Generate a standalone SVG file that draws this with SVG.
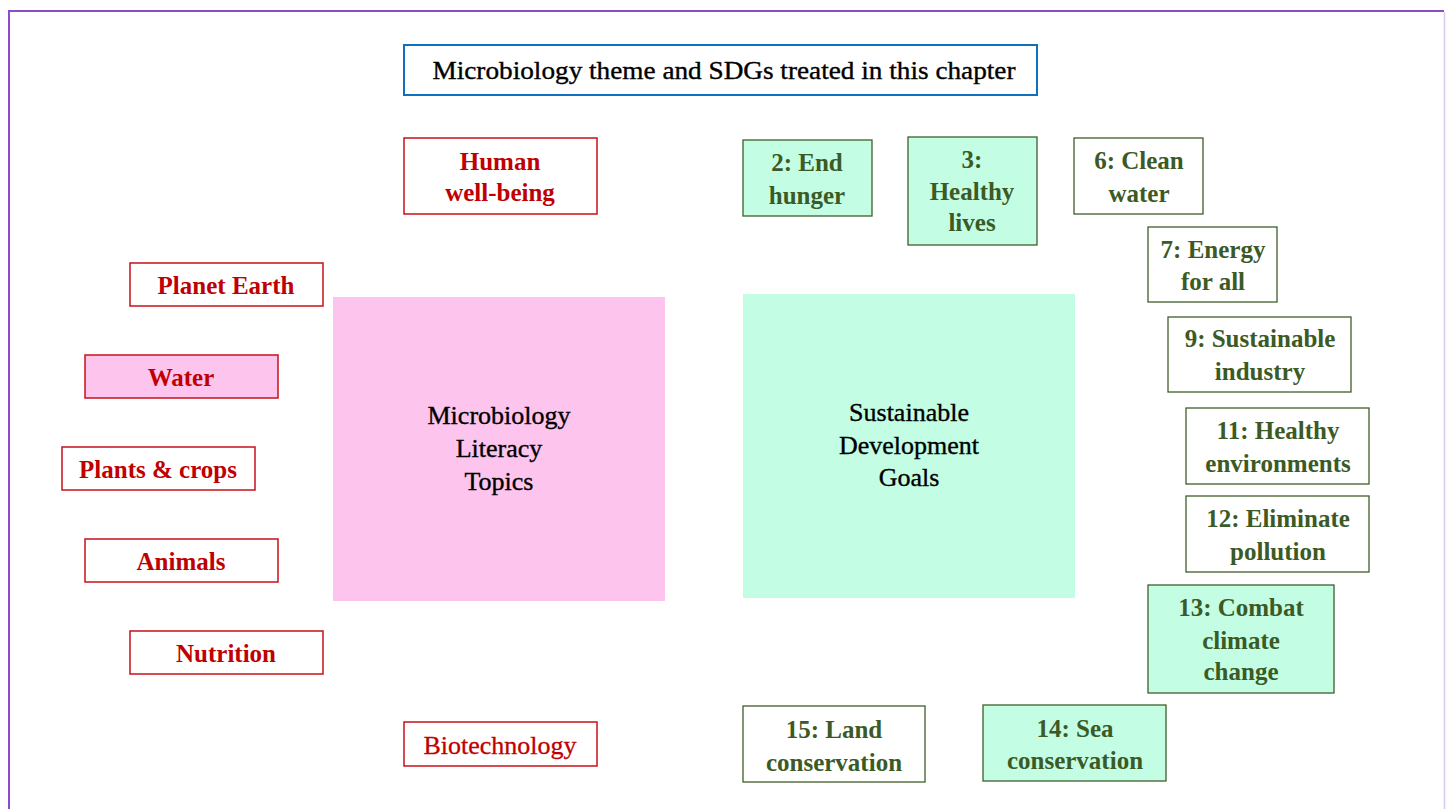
<svg xmlns="http://www.w3.org/2000/svg" width="1450" height="809" viewBox="0 0 1450 809">
<style>
  text { font-family: "Liberation Serif", "Times New Roman", serif; text-anchor: middle; }
  .title { font-size: 25px; fill: #000; stroke: #000; stroke-width: 0.35; }
  .center { font-size: 26px; fill: #000; stroke: #000; stroke-width: 0.35; }
  .topic rect { fill: #fff; stroke: #c8101a; stroke-width: 1.5; }
  .topic text { font-size: 25px; font-weight: bold; fill: #c00000; }
  .topic.filled rect { fill: #fdc4ee; }
  .topic text.light { font-weight: normal; font-size: 26px; stroke: #c00000; stroke-width: 0.3; }
  .sdg rect { fill: #fff; stroke: #3f5f2a; stroke-width: 1.3; }
  .sdg text { font-size: 25px; font-weight: bold; fill: #3b5a25; }
  .sdg.filled rect { fill: #c2fde4; }
</style>
<rect x="0" y="0" width="1450" height="809" fill="#fff"/>
<g id="frame">
  <line x1="9" y1="11" x2="1444" y2="11" stroke="#8a4cc8" stroke-width="2"/>
  <line x1="9" y1="10" x2="9" y2="809" stroke="#8a4cc8" stroke-width="2"/>
  <line x1="1444.5" y1="12" x2="1444.5" y2="809" stroke="#d6c8ef" stroke-width="1.5"/>
</g>
<g id="title">
  <rect x="404" y="45" width="633" height="50" fill="#fff" stroke="#1070c0" stroke-width="2"/>
  <text class="title" x="724" y="79" textLength="583" lengthAdjust="spacingAndGlyphs">Microbiology theme and SDGs treated in this chapter</text>
</g>
<g id="microbiology-topics">
  <rect x="333" y="297" width="332" height="304" fill="#fdc4ee"/>
  <text class="center" x="499" y="424">Microbiology</text>
  <text class="center" x="499" y="457">Literacy</text>
  <text class="center" x="499" y="490">Topics</text>
</g>
<g id="sdgs">
  <rect x="743" y="294" width="332" height="304" fill="#c2fde4"/>
  <text class="center" x="909" y="421">Sustainable</text>
  <text class="center" x="909" y="454">Development</text>
  <text class="center" x="909" y="486">Goals</text>
</g>
<g id="human-wellbeing" class="topic">
  <rect x="404" y="138" width="193" height="76"/>
  <text x="500" y="170">Human</text>
  <text x="500" y="201">well-being</text>
</g>
<g id="planet-earth" class="topic">
  <rect x="130" y="263" width="193" height="43"/>
  <text x="226" y="294">Planet Earth</text>
</g>
<g id="water" class="topic filled">
  <rect x="85" y="355" width="193" height="43"/>
  <text x="181" y="386">Water</text>
</g>
<g id="plants-crops" class="topic">
  <rect x="62" y="447" width="193" height="43"/>
  <text x="158" y="478">Plants &amp; crops</text>
</g>
<g id="animals" class="topic">
  <rect x="85" y="539" width="193" height="43"/>
  <text x="181" y="570">Animals</text>
</g>
<g id="nutrition" class="topic">
  <rect x="130" y="631" width="193" height="43"/>
  <text x="226" y="662">Nutrition</text>
</g>
<g id="biotechnology" class="topic">
  <rect x="404" y="722" width="193" height="44"/>
  <text class="light" x="500" y="754">Biotechnology</text>
</g>
<g id="sdg2" class="sdg filled">
  <rect x="743" y="140" width="129" height="76"/>
  <text x="807" y="171">2: End</text>
  <text x="807" y="204">hunger</text>
</g>
<g id="sdg3" class="sdg filled">
  <rect x="908" y="137" width="129" height="108"/>
  <text x="972" y="168">3:</text>
  <text x="972" y="200">Healthy</text>
  <text x="972" y="231">lives</text>
</g>
<g id="sdg6" class="sdg">
  <rect x="1074" y="138" width="129" height="76"/>
  <text x="1139" y="169">6: Clean</text>
  <text x="1139" y="202">water</text>
</g>
<g id="sdg7" class="sdg">
  <rect x="1148" y="227" width="129" height="75"/>
  <text x="1213" y="258">7: Energy</text>
  <text x="1213" y="290">for all</text>
</g>
<g id="sdg9" class="sdg">
  <rect x="1168" y="317" width="183" height="75"/>
  <text x="1260" y="347">9: Sustainable</text>
  <text x="1260" y="380">industry</text>
</g>
<g id="sdg11" class="sdg">
  <rect x="1186" y="408" width="183" height="76"/>
  <text x="1278" y="439">11: Healthy</text>
  <text x="1278" y="472">environments</text>
</g>
<g id="sdg12" class="sdg">
  <rect x="1186" y="496" width="183" height="76"/>
  <text x="1278" y="527">12: Eliminate</text>
  <text x="1278" y="560">pollution</text>
</g>
<g id="sdg13" class="sdg filled">
  <rect x="1148" y="585" width="186" height="108"/>
  <text x="1241" y="616">13: Combat</text>
  <text x="1241" y="649">climate</text>
  <text x="1241" y="680">change</text>
</g>
<g id="sdg14" class="sdg filled">
  <rect x="983" y="705" width="183" height="76"/>
  <text x="1075" y="737">14: Sea</text>
  <text x="1075" y="769">conservation</text>
</g>
<g id="sdg15" class="sdg">
  <rect x="743" y="706" width="182" height="76"/>
  <text x="834" y="738">15: Land</text>
  <text x="834" y="771">conservation</text>
</g>
<g id="connectors"></g>
</svg>
